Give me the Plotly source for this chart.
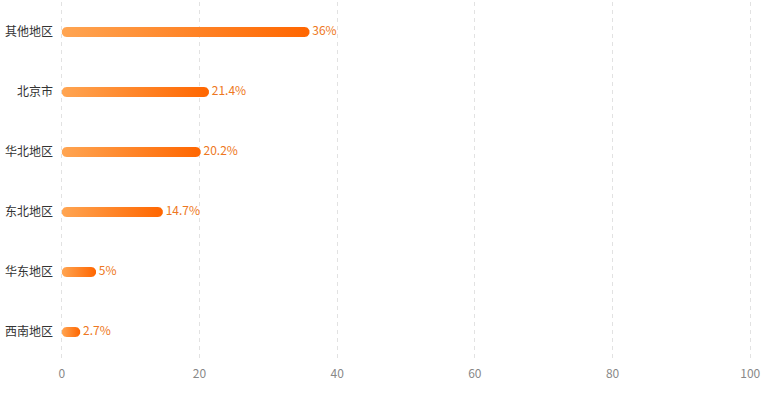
import plotly.graph_objects as go
import numpy as np

categories = ["其他地区", "北京市", "华北地区", "东北地区", "华东地区", "西南地区"]
values = [36, 21.4, 20.2, 14.7, 5, 2.7]
x_ticks = [0, 20, 40, 60, 80, 100]

W, H = 771, 398
ML, MR, MT, MB = 60, 19, 2, 36
plot_w = W - ML - MR
plot_h = H - MT - MB
x_lo, x_hi = -0.25, 100.25
px_per_x = plot_w / (x_hi - x_lo)
px_per_y = plot_h / len(categories)
half_px = 5.0

fig = go.Figure()

for i, (cat, v) in enumerate(zip(categories, values)):
    L = v * px_per_x
    r = min(half_px, L / 2)
    t1 = np.linspace(np.pi / 2, -np.pi / 2, 20)
    right = [(L - r + r * np.cos(t), half_px * np.sin(t)) for t in t1]
    t2 = np.linspace(-np.pi / 2, -3 * np.pi / 2, 20)
    left = [(r + r * np.cos(t), half_px * np.sin(t)) for t in t2]
    pts = right + left + [right[0]]
    xs = [p[0] / px_per_x for p in pts]
    ys = [i - p[1] / px_per_y for p in pts]
    fig.add_trace(go.Scatter(
        x=xs, y=ys, mode="lines", fill="toself",
        line=dict(width=0),
        fillgradient=dict(type="horizontal",
                          colorscale=[[0, "#FFA552"], [1, "#FF6600"]]),
        hoverinfo="skip", showlegend=False,
    ))

fig.add_trace(go.Scatter(
    x=values, y=list(range(len(categories))), mode="text",
    text=[f"\u00a0{v}%" for v in values], textposition="middle right",
    textfont=dict(color="#EE7722", size=12, family="Noto Sans CJK SC"),
    hoverinfo="skip", showlegend=False, cliponaxis=False,
))

fig.update_layout(
    width=W, height=H,
    margin=dict(l=ML, r=MR, t=MT, b=MB, autoexpand=False),
    paper_bgcolor="white", plot_bgcolor="white",
    font=dict(family="Noto Sans CJK SC", size=12, color="#333333"),
    xaxis=dict(range=[x_lo, x_hi], tickvals=x_ticks, showgrid=True,
               gridcolor="#E2E2E2", griddash="4px,4px", gridwidth=1,
               zeroline=False, showline=False, ticks="", automargin=False,
               ticklabelstandoff=3,
               tickfont=dict(color="#888888", size=12)),
    yaxis=dict(range=[len(categories) - 0.5, -0.5],
               tickvals=list(range(len(categories))), ticktext=categories,
               showgrid=False, zeroline=False, showline=False, ticks="",
               automargin=False, ticklabelstandoff=6,
               tickfont=dict(color="#333333", size=12)),
)

fig.write_html("out.html", config={"displayModeBar": False},
               post_script="document.body.style.margin='0';document.body.style.padding='0';")
